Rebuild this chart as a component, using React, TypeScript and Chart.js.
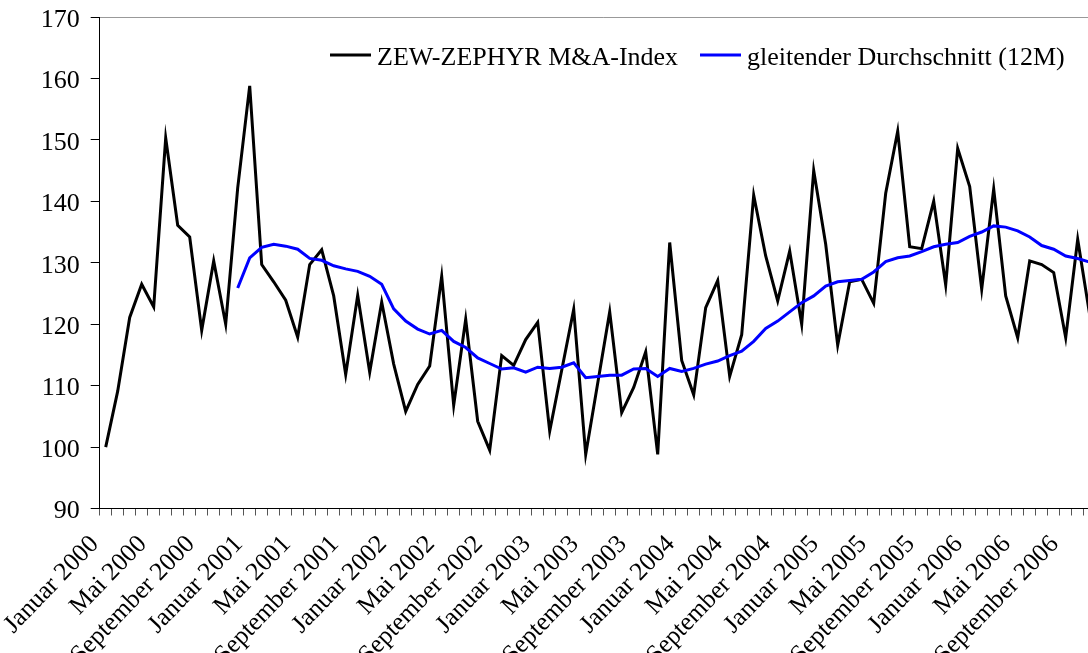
import React, { useEffect, useRef } from 'react';
import { Chart, registerables } from 'chart.js';

Chart.register(...registerables);

const monthNames = ['Januar', 'Februar', 'März', 'April', 'Mai', 'Juni', 'Juli', 'August', 'September', 'Oktober', 'November', 'Dezember'];
const years = [2000, 2001, 2002, 2003, 2004, 2005, 2006];
const categories = years.flatMap((y) => monthNames.map((m) => `${m} ${y}`));

const shownTickLabels = [
  'Januar 2000', 'Mai 2000', 'September 2000',
  'Januar 2001', 'Mai 2001', 'September 2001',
  'Januar 2002', 'Mai 2002', 'September 2002',
  'Januar 2003', 'Mai 2003', 'September 2003',
  'Januar 2004', 'Mai 2004', 'September 2004',
  'Januar 2005', 'Mai 2005', 'September 2005',
  'Januar 2006', 'Mai 2006', 'September 2006',
];

const seriesLabels = ['ZEW-ZEPHYR M&A-Index', 'gleitender Durchschnitt (12M)'];

const zephyrIndex = [
  100.0, 109.1, 121.1, 126.5, 122.8, 150.3, 136.1, 134.2, 119.0, 130.3, 120.0, 142.2,
  158.8, 129.7, 126.9, 123.9, 117.9, 129.7, 132.1, 124.6, 111.8, 124.7, 112.2, 123.6,
  113.5, 105.8, 110.2, 113.2, 127.8, 106.8, 120.8, 104.2, 99.5, 114.9, 113.3, 117.5,
  120.3, 102.6, 112.5, 122.4, 98.8, 110.4, 122.0, 105.6, 109.7, 115.5, 98.8, 133.3,
  114.1, 108.5, 122.7, 127.1, 111.5, 118.3, 141.0, 131.1, 123.8, 131.9, 120.0, 145.0,
  133.0, 116.6, 126.9, 127.3, 123.4, 141.3, 151.4, 132.6, 132.3, 140.0, 126.4, 148.6,
  142.4, 125.7, 142.0, 124.6, 117.8, 130.3, 129.7, 128.4, 117.8, 133.8, 121.5, 124.0,
];

const movingAverage = [
  null, null, null, null, null, null, null, null, null, null, null, 125.9,
  130.8, 132.5, 133.0, 132.7, 132.2, 130.7, 130.4, 129.5, 129.0, 128.6, 127.8, 126.5,
  122.5, 120.5, 119.2, 118.4, 119.0, 117.2, 116.2, 114.5, 113.6, 112.7, 112.9, 112.2,
  113.0, 112.8, 113.0, 113.7, 111.3, 111.5, 111.7, 111.7, 112.7, 112.8, 111.5, 112.8,
  112.3, 112.8, 113.5, 114.0, 114.9, 115.6, 117.2, 119.3, 120.5, 122.0, 123.5, 124.6,
  126.2, 126.9, 127.1, 127.3, 128.5, 130.2, 130.8, 131.1, 131.8, 132.6, 133.0, 133.3,
  134.3, 135.0, 136.0, 135.8, 135.2, 134.2, 132.8, 132.2, 131.1, 130.7, 130.1, 129.8,
];

const FONT = '"Liberation Serif", "Times New Roman", serif';

const inlineLegend = {
  id: 'inlineLegend',
  afterDatasetsDraw(chart: any) {
    const ctx = chart.ctx;
    const items = [
      { ds: 0, x: 330 },
      { ds: 1, x: 700 },
    ];
    ctx.save();
    ctx.font = `26px ${FONT}`;
    ctx.textBaseline = 'alphabetic';
    ctx.textAlign = 'left';
    items.forEach((it) => {
      const ds = chart.data.datasets[it.ds];
      ctx.strokeStyle = ds.borderColor;
      ctx.lineWidth = 3;
      ctx.beginPath();
      ctx.moveTo(it.x, 55);
      ctx.lineTo(it.x + 41, 55);
      ctx.stroke();
      ctx.fillStyle = '#000';
      ctx.fillText(ds.label, it.x + 47, 65);
    });
    ctx.restore();
  },
};

const zeroPadding = (s: any) => {
  s.paddingTop = 0;
  s.paddingBottom = 0;
  s.paddingLeft = 0;
  s.paddingRight = 0;
};

export default function App() {
  const ref = useRef<HTMLCanvasElement | null>(null);

  useEffect(() => {
    if (!ref.current) return;
    const chart = new Chart(ref.current, {
      type: 'line',
      data: {
        labels: categories,
        datasets: [
          {
            label: seriesLabels[0],
            data: zephyrIndex,
            borderColor: '#000000',
            borderWidth: 3,
            pointRadius: 0,
            tension: 0,
            order: 1,
          },
          {
            label: seriesLabels[1],
            data: movingAverage,
            borderColor: '#0000ff',
            borderWidth: 3,
            pointRadius: 0,
            tension: 0,
            spanGaps: false,
            order: 0,
          },
        ],
      },
      options: {
        animation: false,
        responsive: false,
        devicePixelRatio: 1,
        layout: { padding: { top: 17, right: 32.3, left: 0, bottom: 0 } },
        plugins: {
          legend: { display: false },
          tooltip: { enabled: false },
        },
        scales: {
          x: {
            type: 'category',
            offset: true,
            grid: {
              offset: true,
              drawOnChartArea: false,
              drawTicks: true,
              tickLength: 7,
              tickColor: '#555',
              tickWidth: 1,
            },
            border: { color: '#000', width: 1 },
            ticks: {
              autoSkip: false,
              maxRotation: 46,
              minRotation: 46,
              padding: 14,
              labelOffset: -11,
              color: '#000',
              font: { family: FONT, size: 25.5 },
              callback: (_v: any, i: number) => (shownTickLabels.includes(categories[i]) ? categories[i] : ''),
            },
            afterFit: (s: any) => {
              s.height = 144.5;
              zeroPadding(s);
            },
          },
          y: {
            min: 90,
            max: 170,
            ticks: {
              stepSize: 10,
              padding: 11,
              labelOffset: 3,
              color: '#000',
              font: { family: FONT, size: 26 },
            },
            grid: {
              drawOnChartArea: true,
              color: (c: any) => (c.tick && c.tick.value === 170 ? '#999' : 'rgba(0,0,0,0)'),
              tickColor: '#000',
              tickLength: 9,
            },
            border: { color: '#000', width: 1 },
            afterFit: (s: any) => {
              s.width = 99.7;
              zeroPadding(s);
            },
          },
        },
      },
      plugins: [inlineLegend],
    });
    return () => chart.destroy();
  }, []);

  return (
    <div style={{ position: 'fixed', left: 0, top: 0, width: 1088, height: 653, overflow: 'hidden', background: '#fff' }}>
      <canvas ref={ref} width={1140} height={653} style={{ display: 'block' }} />
    </div>
  );
}
